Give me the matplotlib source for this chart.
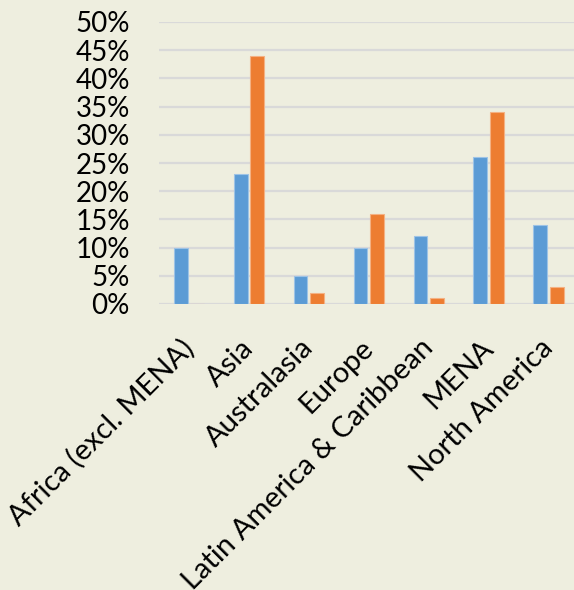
import numpy as np
from matplotlib import pyplot as plt
from matplotlib.ticker import PercentFormatter

regions = ['Africa (excl. MENA)', 'Asia', 'Australasia', 'Europe',
           'Latin America & Caribbean', 'MENA', 'North America']
blue_vals = [10, 23, 5, 10, 12, 26, 14]
orange_vals = [0, 44, 2, 16, 1, 34, 3]
yticks = [0, 5, 10, 15, 20, 25, 30, 35, 40, 45, 50]

bg = '#EEEEDF'
plt.rcParams['font.family'] = ['Lato', 'DejaVu Sans']

fig = plt.figure(figsize=(5.74, 5.9), dpi=100, facecolor=bg)
ax = fig.add_axes([159/574, 1-304/590, 1-159/574, (304-22)/590])
ax.set_facecolor(bg)

x = np.arange(len(regions))
w = 0.23
ax.bar(x - 0.138, blue_vals, w, color='#5B9BD5', edgecolor='#9DC3E6', linewidth=0.8, zorder=3)
ax.bar(x + 0.138, orange_vals, w, color='#ED7D31', edgecolor='#F4B183', linewidth=0.8, zorder=3)

ax.set_ylim(0, 50)
ax.set_xlim(-0.5, 6.5 - 4.5/60)
ax.set_yticks(yticks)
ax.yaxis.set_major_formatter(PercentFormatter(decimals=0))
ax.grid(axis='y', color='#D9D9D9', linewidth=1.6, zorder=0)
for s in ax.spines.values():
    s.set_visible(False)
ax.tick_params(axis='both', length=0, colors='black')
ax.tick_params(axis='y', pad=21, labelsize=20)

ax.set_xticks(x - 0.15)
ax.set_xticklabels(regions, rotation=45, ha='right', rotation_mode='anchor', fontsize=21)
ax.tick_params(axis='x', pad=22)

fig.savefig('out.png', dpi=100, facecolor=bg)
